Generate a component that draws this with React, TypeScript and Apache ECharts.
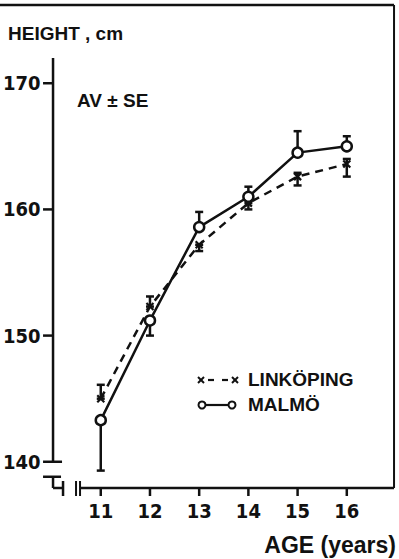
import React, { useEffect, useRef } from "react";
import * as echarts from "echarts";

const ages = [11, 12, 13, 14, 15, 16];
const malmo = [143.3, 151.2, 158.6, 161.0, 164.5, 165.0];
const malmoLow = [139.3, 150.0, 158.6, 161.0, 164.5, 165.0];
const malmoHigh = [143.3, 151.2, 159.8, 161.8, 166.2, 165.8];
const linkoping = [145.0, 152.3, 157.2, 160.5, 162.6, 163.6];
const linkopingLow = [145.0, 152.3, 156.7, 160.0, 161.9, 162.6];
const linkopingHigh = [146.1, 153.1, 157.2, 160.5, 162.9, 164.0];
const yTickValues = [140, 150, 160, 170];
const yAxisTitle = "HEIGHT , cm";
const xAxisTitle = "AGE (years)";
const note = "AV ± SE";
const seriesNames = ["LINKÖPING", "MALMÖ"];

const DIG = '"Liberation Sans Narrow", "DejaVu Sans Condensed", "Liberation Sans", sans-serif';
const TXT = '"Liberation Sans", Arial, sans-serif';
const INK = "#111";

export default function App() {
  const ref = useRef<HTMLDivElement>(null);
  useEffect(() => {
    if (!ref.current) return;
    const chart = echarts.init(ref.current, undefined, { renderer: "svg" });

    const errItem = (params: any, api: any) => {
      const x = api.value(0);
      const p1 = api.coord([x, api.value(1)]);
      const p2 = api.coord([x, api.value(2)]);
      const hw = 4;
      const st = { stroke: INK, lineWidth: 2.5 };
      return {
        type: "group",
        children: [
          { type: "line", shape: { x1: p1[0], y1: p1[1], x2: p2[0], y2: p2[1] }, style: st },
          { type: "line", shape: { x1: p1[0] - hw, y1: p1[1], x2: p1[0] + hw, y2: p1[1] }, style: st },
          { type: "line", shape: { x1: p2[0] - hw, y1: p2[1], x2: p2[0] + hw, y2: p2[1] }, style: st },
        ],
      };
    };

    const crossItem = (params: any, api: any) => {
      const p = api.coord([api.value(0), api.value(1)]);
      const s = 3.5;
      const st = { stroke: INK, lineWidth: 2.2 };
      return {
        type: "group",
        children: [
          { type: "line", shape: { x1: p[0] - s, y1: p[1] - s, x2: p[0] + s, y2: p[1] + s }, style: st },
          { type: "line", shape: { x1: p[0] - s, y1: p[1] + s, x2: p[0] + s, y2: p[1] - s }, style: st },
        ],
      };
    };

    const frameItem = (params: any, api: any) => {
      const st = { stroke: INK, lineWidth: 2.5 };
      const xl = api.coord([10.03, 140])[0];
      const y140 = api.coord([10.03, 140])[1];
      const yTop = api.coord([10.03, 172])[1];
      const yb = api.coord([10.03, 138])[1] + 1;
      const xr = api.coord([16.96, 138])[0];
      const kids: any[] = [];
      const ln = (x1: number, y1: number, x2: number, y2: number, w = 2.5) =>
        kids.push({ type: "line", shape: { x1, y1, x2, y2 }, style: { ...st, lineWidth: w } });
      // y axis
      ln(xl, yTop, xl, y140);
      yTickValues.forEach((v) => {
        const y = api.coord([10.03, v])[1];
        ln(xl - 10, y, v === 140 ? xl + 9 : xl, y);
      });
      // break
      const yBrk = y140 + 15;
      ln(xl - 10, yBrk, xl + 8, yBrk);
      ln(xl, yBrk, xl, yb);
      ln(xl, yb, xl + 10, yb);
      ln(xl + 10, yb - 7, xl + 10, yb + 8);
      ln(xl + 23, yb - 7, xl + 23, yb + 8, 2);
      ln(xl + 27, yb - 7, xl + 27, yb + 8, 2);
      // x axis
      ln(xl + 27, yb, xr, yb);
      ages.forEach((a) => {
        const x = api.coord([a, 138])[0];
        ln(x, yb, x, yb + 8);
      });
      // box
      ln(xr, yb, xr, 5, 2);
      ln(0, 5, xr, 5, 2.5);
      return { type: "group", children: kids };
    };

    chart.setOption({
      animation: false,
      backgroundColor: "#fff",
      grid: { left: 51, right: 1, top: 58, bottom: 72 },
      xAxis: {
        type: "value",
        min: 10,
        max: 17,
        interval: 1,
        axisLine: { show: false },
        axisTick: { show: false },
        splitLine: { show: false },
        axisLabel: {
          margin: 14,
          color: INK,
          fontFamily: DIG,
          fontWeight: "bold",
          fontSize: 20,
          formatter: (v: number) => (ages.includes(v) ? String(v) : ""),
        },
      },
      yAxis: {
        type: "value",
        min: 138,
        max: 172,
        interval: 2,
        axisLine: { show: false },
        axisTick: { show: false },
        splitLine: { show: false },
        axisLabel: {
          margin: 11,
          color: INK,
          fontFamily: DIG,
          fontWeight: "bold",
          fontSize: 20,
          formatter: (v: number) => (yTickValues.includes(v) ? String(v) : ""),
        },
      },
      series: [
        {
          type: "custom",
          name: "frame",
          renderItem: frameItem,
          data: [[10, 140]],
          clip: false,
          silent: true,
          z: 1,
        },
        {
          type: "line",
          name: seriesNames[0],
          data: ages.map((a, i) => [a, linkoping[i]]),
          symbol: "none",
          lineStyle: { color: INK, width: 2.5, type: [8, 6] },
          z: 2,
        },
        {
          type: "custom",
          name: "linkErr",
          renderItem: errItem,
          data: ages.map((a, i) => [a, linkopingLow[i], linkopingHigh[i]]),
          z: 3,
        },
        {
          type: "custom",
          name: "linkMark",
          renderItem: crossItem,
          data: ages.map((a, i) => [a, linkoping[i]]),
          z: 3,
        },
        {
          type: "custom",
          name: "malmoErr",
          renderItem: errItem,
          data: ages.map((a, i) => [a, malmoLow[i], malmoHigh[i]]),
          clip: false,
          z: 4,
        },
        {
          type: "line",
          name: seriesNames[1],
          data: ages.map((a, i) => [a, malmo[i]]),
          symbol: "circle",
          symbolSize: 10,
          showAllSymbol: true,
          lineStyle: { color: INK, width: 2.5 },
          itemStyle: { color: "#fff", borderColor: INK, borderWidth: 2.5 },
          z: 5,
        },
      ],
      graphic: [
        {
          type: "text",
          left: 8,
          top: 24,
          style: { text: yAxisTitle, fill: INK, font: `bold 19px ${TXT}` },
        },
        {
          type: "text",
          left: 77,
          top: 91,
          style: { text: note, fill: INK, font: `bold 19px ${TXT}` },
        },
        {
          type: "text",
          right: 3,
          top: 533,
          style: { text: xAxisTitle, fill: INK, font: `bold 23px ${TXT}` },
        },
        // legend: Linköping
        { type: "line", shape: { x1: 198, y1: 377, x2: 204, y2: 383 }, style: { stroke: INK, lineWidth: 2 } },
        { type: "line", shape: { x1: 198, y1: 383, x2: 204, y2: 377 }, style: { stroke: INK, lineWidth: 2 } },
        { type: "line", shape: { x1: 208, y1: 380, x2: 214, y2: 380 }, style: { stroke: INK, lineWidth: 2.2 } },
        { type: "line", shape: { x1: 222, y1: 380, x2: 228, y2: 380 }, style: { stroke: INK, lineWidth: 2.2 } },
        { type: "line", shape: { x1: 232, y1: 377, x2: 238, y2: 383 }, style: { stroke: INK, lineWidth: 2 } },
        { type: "line", shape: { x1: 232, y1: 383, x2: 238, y2: 377 }, style: { stroke: INK, lineWidth: 2 } },
        {
          type: "text",
          left: 248,
          top: 370,
          style: { text: seriesNames[0], fill: INK, font: `bold 19px ${TXT}` },
        },
        // legend: Malmö
        { type: "line", shape: { x1: 206, y1: 405, x2: 228, y2: 405 }, style: { stroke: INK, lineWidth: 2.2 } },
        { type: "circle", shape: { cx: 202, cy: 405, r: 3.5 }, style: { fill: "#fff", stroke: INK, lineWidth: 2 } },
        { type: "circle", shape: { cx: 232, cy: 405, r: 3.5 }, style: { fill: "#fff", stroke: INK, lineWidth: 2 } },
        {
          type: "text",
          left: 248,
          top: 395,
          style: { text: seriesNames[1], fill: INK, font: `bold 19px ${TXT}` },
        },
      ],
    });
    return () => chart.dispose();
  }, []);
  return (
    <div
      ref={ref}
      style={{ position: "absolute", left: 0, top: 0, width: 399, height: 559, background: "#fff" }}
    />
  );
}
